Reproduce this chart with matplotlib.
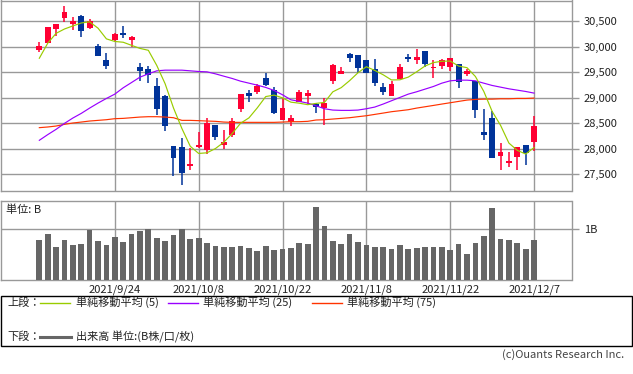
import matplotlib
matplotlib.use("Agg")
import matplotlib.pyplot as plt
from matplotlib.patches import Rectangle
from matplotlib.ticker import FuncFormatter
import numpy as np

plt.rcParams['font.family'] = ['Noto Sans CJK JP', 'DejaVu Sans']

# ---------------- data ----------------
dates = ["9/9", "9/10", "9/13", "9/14", "9/15", "9/16", "9/17", "9/21", "9/22", "9/24",
         "9/27", "9/28", "9/29", "9/30", "10/1", "10/4", "10/5", "10/6", "10/7", "10/8",
         "10/11", "10/12", "10/13", "10/14", "10/15", "10/18", "10/19", "10/20", "10/21", "10/22",
         "10/25", "10/26", "10/27", "10/28", "10/29", "11/1", "11/2", "11/4", "11/5", "11/8",
         "11/9", "11/10", "11/11", "11/12", "11/15", "11/16", "11/17", "11/18", "11/19", "11/22",
         "11/24", "11/25", "11/26", "11/29", "11/30", "12/1", "12/2", "12/3", "12/6", "12/7"]

opens = [29948, 30078, 30359, 30574, 30450, 30613, 30378, 30020, 29746, 30137,
         30280, 30137, 29609, 29570, 29237, 29042, 28064, 28044, 27659, 28031,
         27972, 28474, 28083, 28266, 28774, 29100, 29107, 29387, 29159, 28572,
         28526, 28924, 29042, 28879, 28807, 29322, 29459, 29863, 29844, 29739,
         29563, 29211, 29042, 29374, 29798, 29752, 29922, 29596, 29635, 29615,
         29667, 29459, 29322, 28337, 28611, 27855, 27718, 27835, 28083, 28129]
highs = [30091, 30400, 30450, 30808, 30587, 30626, 30541, 30059, 29876, 30267,
         30411, 30215, 29694, 29628, 29394, 29061, 28064, 28220, 28024, 28337,
         28598, 28474, 28377, 28598, 29081, 29159, 29276, 29498, 29211, 28990,
         28663, 29159, 29146, 28898, 28996, 29667, 29609, 29889, 29844, 29739,
         29765, 29289, 29328, 29667, 29863, 29961, 29922, 29739, 29765, 29785,
         29667, 29570, 29322, 28787, 28735, 28116, 27946, 28044, 28083, 28637]
lows = [29902, 30070, 30222, 30496, 30339, 30202, 30359, 29830, 29576, 30111,
        30183, 29993, 29322, 29302, 28670, 28344, 27464, 27288, 27594, 28024,
        27894, 28168, 27992, 28233, 28716, 28918, 29068, 29224, 28676, 28560,
        28455, 28911, 28879, 28696, 28461, 29263, 29459, 29713, 29498, 29485,
        29224, 29061, 29029, 29374, 29713, 29674, 29615, 29400, 29576, 29531,
        29192, 29433, 28598, 28181, 27816, 27581, 27640, 27581, 27692, 27953]
closes = [30026, 30391, 30450, 30685, 30509, 30313, 30502, 29830, 29635, 30254,
          30241, 30196, 29531, 29446, 28774, 28442, 27816, 27522, 27698, 28070,
          28507, 28233, 28142, 28553, 29081, 29029, 29224, 29244, 28696, 28807,
          28611, 29120, 29100, 28820, 28905, 29648, 29531, 29785, 29596, 29498,
          29283, 29107, 29276, 29609, 29765, 29804, 29674, 29615, 29739, 29785,
          29309, 29518, 28755, 28279, 27816, 27946, 27770, 28044, 27913, 28455]

ma5 = [29778, 30072, 30267, 30352, 30412, 30470, 30492, 30368, 30158, 30107,
       30092, 30031, 29971, 29934, 29638, 29278, 28802, 28400, 28050, 27910,
       27923, 28006, 28130, 28301, 28503, 28608, 28806, 29026, 29055, 29000,
       28916, 28896, 28867, 28892, 28911, 29119, 29201, 29338, 29493, 29612,
       29539, 29454, 29352, 29355, 29408, 29512, 29626, 29693, 29719, 29723,
       29624, 29593, 29421, 29129, 28735, 28463, 28113, 27971, 27898, 28026]
ma25 = [28168, 28279, 28383, 28500, 28605, 28696, 28800, 28898, 28989, 29074,
        29198, 29302, 29407, 29472, 29531, 29544, 29544, 29544, 29531, 29518,
        29511, 29472, 29426, 29381, 29328, 29289, 29250, 29205, 29146, 29061,
        28963, 28931, 28898, 28846, 28787, 28761, 28755, 28755, 28761, 28787,
        28820, 28879, 28944, 29009, 29074, 29120, 29172, 29224, 29289, 29335,
        29348, 29348, 29335, 29289, 29244, 29211, 29178, 29152, 29126, 29094]
ma75 = [28416, 28429, 28448, 28481, 28507, 28526, 28546, 28559, 28572, 28592,
        28598, 28611, 28624, 28631, 28631, 28624, 28611, 28559, 28559, 28553,
        28546, 28540, 28526, 28520, 28520, 28520, 28520, 28520, 28520, 28526,
        28533, 28533, 28540, 28566, 28572, 28585, 28598, 28611, 28631, 28650,
        28676, 28702, 28729, 28748, 28768, 28800, 28826, 28852, 28879, 28905,
        28931, 28957, 28970, 28976, 28976, 28983, 28983, 28989, 28989, 28996]

volume_b = [0.79, 0.91, 0.65, 0.79, 0.69, 0.71, 0.99, 0.77, 0.69, 0.85,
            0.75, 0.91, 0.97, 1.01, 0.83, 0.77, 0.89, 1.01, 0.81, 0.83,
            0.73, 0.67, 0.65, 0.65, 0.67, 0.63, 0.57, 0.67, 0.59, 0.61,
            0.63, 0.73, 0.71, 1.44, 1.07, 0.77, 0.71, 0.91, 0.75, 0.69,
            0.65, 0.65, 0.61, 0.69, 0.61, 0.63, 0.65, 0.65, 0.65, 0.59,
            0.71, 0.51, 0.73, 0.87, 1.42, 0.81, 0.79, 0.73, 0.61, 0.79]

date_ticks = ["2021/9/24", "2021/10/8", "2021/10/22", "2021/11/8", "2021/11/22", "2021/12/7"]
date_tick_days = ["9/24", "10/8", "10/22", "11/8", "11/22", "12/7"]
price_ticks = [27500, 28000, 28500, 29000, 29500, 30000, 30500]
legend_labels = ["単純移動平均 (5)", "単純移動平均 (25)", "単純移動平均 (75)"]

# ---------------- styling ----------------
W, H = 633, 374
UP = "#ff0033"
DOWN = "#003399"
C5 = "#99cc00"
C25 = "#9900ff"
C75 = "#ff3300"
GRID = "#999999"
TXT = "#222222"

fig = plt.figure(figsize=(W / 100, H / 100), dpi=100)
fig.patch.set_facecolor("white")

def fx(px):
    return px / W

def fy(py):
    return 1 - py / H

ax1 = fig.add_axes([fx(0.5), fy(191), fx(571), (191 - 0.5) / H])
ax2 = fig.add_axes([fx(0.5), fy(280), fx(571), (280 - 201.3) / H])

x = np.arange(len(dates))
xlim = (-38.9 / 8.4, (572 - 38.9) / 8.4)
tick_pos = [dates.index(d) for d in date_tick_days]

# candles
o = np.array(opens, float)
c = np.array(closes, float)
up = c >= o
body_bottom = np.minimum(o, c)
body_h = np.maximum(np.abs(c - o), 15)
colors = [UP if u else DOWN for u in up]
ax1.vlines(x, lows, highs, colors=colors, linewidth=1.1, zorder=3)
ax1.bar(x, body_h, bottom=body_bottom, width=0.7, color=colors, linewidth=0, zorder=4)

ax1.plot(x, ma75, color=C75, lw=0.85, zorder=5)
ax1.plot(x, ma25, color=C25, lw=0.85, zorder=5)
ax1.plot(x, ma5, color=C5, lw=0.85, zorder=6)

ax1.set_xlim(*xlim)
ax1.set_ylim(30500 - (191 - 21) * 19.57, 30500 + 21 * 19.57)
ax1.set_yticks(price_ticks)
ax1.yaxis.set_major_formatter(FuncFormatter(lambda v, p: f"{int(v):,}"))
ax1.yaxis.tick_right()
ax1.tick_params(axis="y", length=5, width=1, color=GRID, pad=4, labelsize=8, labelcolor=TXT)
ax1.set_xticks(tick_pos)
ax1.tick_params(axis="x", length=0, labelbottom=False)
ax1.grid(True, color=GRID, lw=1.0, zorder=0)
ax1.set_axisbelow(True)
for s in ax1.spines.values():
    s.set_color(GRID)
    s.set_linewidth(1.0)

# volume
ax2.bar(x, volume_b, width=0.68, color="#666666", linewidth=0, zorder=3)
ax2.set_xlim(*xlim)
ax2.set_ylim(0, (280 - 201.3) / 50.7)
ax2.set_yticks([1])
ax2.set_yticklabels(["1B"])
ax2.yaxis.tick_right()
ax2.tick_params(axis="y", length=5, width=1, color=GRID, pad=4, labelsize=8, labelcolor=TXT)
ax2.set_xticks(tick_pos)
ax2.set_xticklabels(date_ticks)
ax2.tick_params(axis="x", length=0, pad=3, labelsize=8, labelcolor=TXT)
ax2.grid(True, color=GRID, lw=1.0, zorder=0)
ax2.set_axisbelow(True)
for s in ax2.spines.values():
    s.set_color(GRID)
    s.set_linewidth(1.0)
ax2.text(5 / 571, (280 - 210) / (280 - 201.3), "単位: B", transform=ax2.transAxes,
         ha="left", va="center", fontsize=8, color=TXT)

# legend box
fig.patches.append(Rectangle((fx(0.5), fy(346)), fx(631.5), (346 - 295.7) / H,
                             transform=fig.transFigure, fill=False,
                             edgecolor="black", lw=1.0))
ly1 = fy(302.5)
ly2 = fy(337)
fig.text(fx(7), ly1, "上段：", fontsize=8, va="center", ha="left", color=TXT)
for (x0, x1, tx, col, lab) in [(40, 70, 76, C5, legend_labels[0]),
                               (168, 198, 203, C25, legend_labels[1]),
                               (312, 342, 347, C75, legend_labels[2])]:
    fig.add_artist(plt.Line2D([fx(x0), fx(x1)], [ly1, ly1], color=col, lw=1.0,
                              transform=fig.transFigure))
    fig.text(fx(tx), ly1, lab, fontsize=8, va="center", ha="left", color=TXT)
fig.text(fx(7), ly2, "下段：", fontsize=8, va="center", ha="left", color=TXT)
fig.add_artist(plt.Line2D([fx(40), fx(71)], [ly2, ly2], color="#666666", lw=2.2,
                          transform=fig.transFigure))
fig.text(fx(76), ly2, "出来高 単位:(B株/口/枚)", fontsize=8, va="center", ha="left", color=TXT)

fig.text(fx(624), fy(355), "(c)Ouants Research Inc.", fontsize=8, va="center", ha="right",
         color="#444444")

fig.savefig("out.png", dpi=100, facecolor="white")
